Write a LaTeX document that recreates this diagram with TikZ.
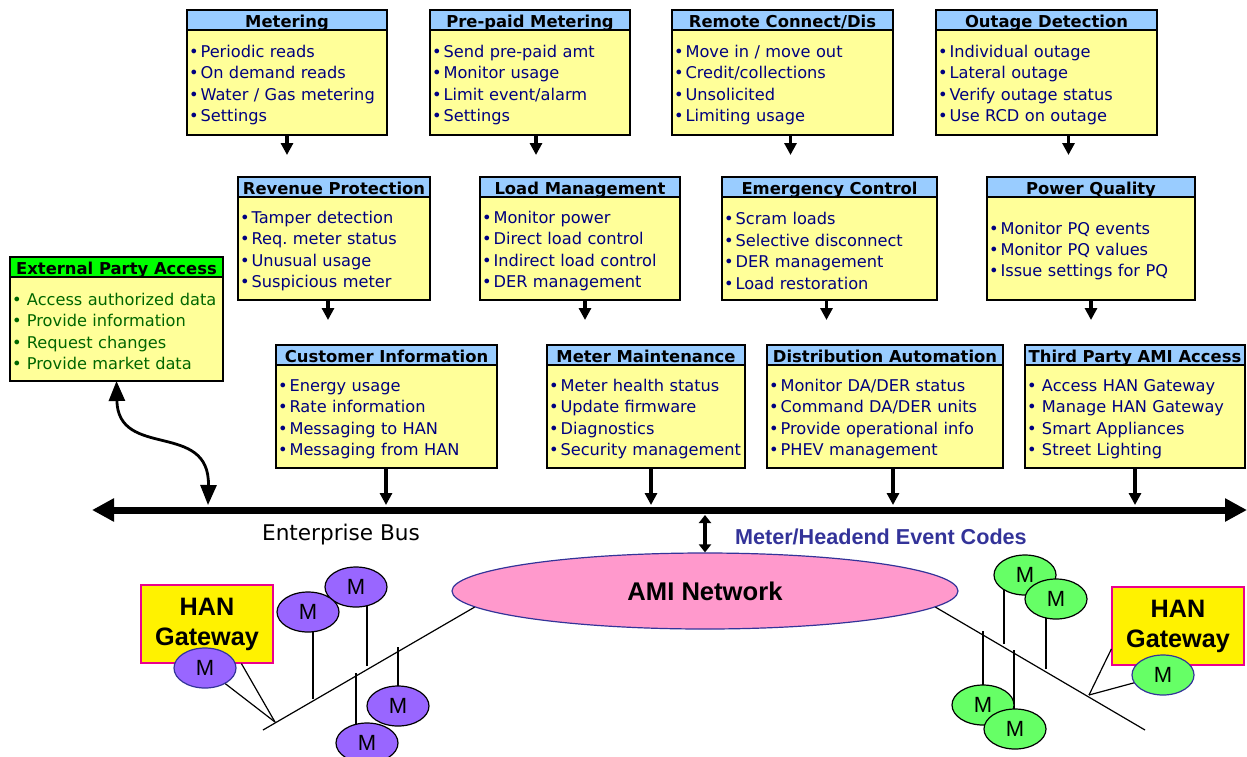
\documentclass[tikz,border=0pt]{standalone}
\usepackage{fontspec}
\setmainfont{DejaVu Sans}
\newfontfamily\arialfont{Liberation Sans}
\usepackage{tikz}
\usetikzlibrary{arrows.meta, positioning, shapes.geometric}
\definecolor{hdrblue}{HTML}{99CCFF}
\definecolor{boxyellow}{HTML}{FFFF99}
\definecolor{itemblue}{HTML}{000080}
\definecolor{extgreen}{HTML}{00FF00}
\definecolor{itemgreen}{HTML}{006600}
\definecolor{meterpurple}{HTML}{9966FF}
\definecolor{metergreen}{HTML}{66FF66}
\definecolor{amipink}{HTML}{FF99CC}
\definecolor{codeblue}{HTML}{333399}
\hyphenpenalty=10000
\frenchspacing

\newcommand{\bul}{\textbullet\kern1pt}
% name, left, top, width, body height (px), title, items
\newcommand{\funcbox}[7]{%
  \node[hdr, minimum width={#4*0.5pt}] (#1h) at (#2,#3) {#6};
  \node[body, minimum width={#4*0.5pt}, text width={#4*0.5pt-2pt},
        minimum height={#5*0.5pt}, below=0pt of #1h] (#1) {\rule{0pt}{8.6pt}#7};
}

\begin{document}
\begin{tikzpicture}[x=0.5pt, y=-0.5pt,
    hdr/.style={draw, line width=1pt, fill=hdrblue, minimum height=10pt,
      inner sep=0pt, outer sep=0pt, anchor=north west, text height=7.6pt, text depth=0pt,
      font=\bfseries\fontsize{8.2}{10}\selectfont},
    body/.style={draw, line width=1pt, fill=boxyellow, inner xsep=1pt,
      inner ysep=0pt, outer sep=0pt, align=left, text=itemblue,
      font=\fontsize{8.1}{10.7}\selectfont},
    stub/.style={line width=1.6pt, -{Triangle[length=6pt,width=6pt]}},
    dstub/.style={line width=1.6pt, {Triangle[length=4pt,width=6pt]}-{Triangle[length=4pt,width=6pt]}},
    curvy/.style={line width=1.4pt, {Triangle[length=10pt,width=8pt]}-{Triangle[length=10pt,width=8pt]}},
    bus/.style={line width=3.5pt, {Triangle[length=11pt,width=11pt]}-{Triangle[length=11pt,width=11pt]}},
    lan/.style={line width=0.6pt},
    han/.style={draw=magenta, line width=0.6pt, fill=yellow, minimum width=66pt,
      minimum height=39pt, inner sep=0pt, align=center,
      font=\arialfont\bfseries\fontsize{12.6}{15}\selectfont},
    meterP/.style={ellipse, draw, line width=0.6pt, fill=meterpurple, minimum width=31pt,
      minimum height=20pt, inner sep=0pt, font=\arialfont\fontsize{11}{12}\selectfont},
    meterG/.style={meterP, fill=metergreen}]
  \useasboundingbox (0,0) rectangle (1247,756);

  % first row
  \funcbox{meter}{187}{10}{200}{105}{Metering}
    {\bul Periodic reads\\\bul On demand reads\\\bul Water / Gas metering\\\bul Settings}
  \funcbox{prepaid}{430}{10}{200}{105}{Pre-paid Metering}
    {\bul Send pre-paid amt\\\bul Monitor usage\\\bul Limit event/alarm\\\bul Settings}
  \funcbox{remote}{672}{10}{221}{105}{Remote Connect/Dis}
    {\bul Move in / move out\\\bul Credit/collections\\\bul Unsolicited\\\bul Limiting usage}
  \funcbox{outage}{936}{10}{221}{105}{Outage Detection}
    {\bul Individual outage\\\bul Lateral outage\\\bul Verify outage status\\\bul Use RCD on outage}

  % second row
  \funcbox{revenue}{238}{177}{192}{103}{Revenue Protection}
    {\bul Tamper detection\\\bul Req. meter status\\\bul Unusual usage\\\bul Suspicious meter}
  \funcbox{load}{480}{177}{200}{103}{Load Management}
    {\bul Monitor power\\\bul Direct load control\\\bul Indirect load control\\\bul DER management}
  \funcbox{emerg}{722}{177}{215}{103}{Emergency Control}
    {\bul Scram loads\\\bul Selective disconnect\\\bul DER management\\\bul Load restoration}
  \funcbox{pq}{987}{177}{208}{103}{Power Quality}
    {\bul Monitor PQ events\\\bul Monitor PQ values\\\bul Issue settings for PQ}

  % third row
  \funcbox{cust}{276}{345}{221}{103}{Customer Information}
    {\bul Energy usage\\\bul Rate information\\\bul Messaging to HAN\\\bul Messaging from HAN}
  \funcbox{maint}{547}{345}{198}{103}{Meter Maintenance}
    {\bul Meter health status\\\bul Update firmware\\\bul Diagnostics\\\bul Security management}
  \funcbox{da}{767}{345}{236}{103}{Distribution Automation}
    {\bul Monitor DA/DER status\\\bul Command DA/DER units\\\bul Provide operational info\\\bul PHEV management}
  \funcbox{third}{1025}{345}{220}{103}{Third Party AMI Access}
    {\textbullet\ Access HAN Gateway\\\textbullet\ Manage HAN Gateway\\\textbullet\ Smart Appliances\\\textbullet\ Street Lighting}

  % external party
  \node[hdr, fill=extgreen, minimum width=106.5pt] (exth) at (10,257) {External Party Access};
  \node[body, text=itemgreen, minimum width=106.5pt, text width=104.5pt,
        minimum height=52pt, below=0pt of exth] (ext)
    {\rule{0pt}{8.6pt}\textbullet\ Access authorized data\\\textbullet\ Provide information\\\textbullet\ Request changes\\\textbullet\ Provide market data};

  % stubs between rows
  \draw[stub] (meter.south) -- ++(0,20);
  \draw[stub] ([xshift=3pt]prepaid.south) -- ++(0,20);
  \draw[stub] ([xshift=4pt]remote.south) -- ++(0,20);
  \draw[stub] ([xshift=11pt]outage.south) -- ++(0,20);
  \draw[stub] ([xshift=-3pt]revenue.south) -- ++(0,20);
  \draw[stub] ([xshift=2.5pt]load.south) -- ++(0,20);
  \draw[stub] ([xshift=-1.5pt]emerg.south) -- ++(0,20);
  \draw[stub] (pq.south) -- ++(0,20);

  % enterprise bus
  \coordinate (busL) at (92,510);
  \coordinate (busR) at (1247,510);
  \draw[bus] (busL) -- (busR);
  \coordinate (custTap) at (386,505);
  \coordinate (maintTap) at (651,505);
  \coordinate (daTap) at (893,505);
  \coordinate (thirdTap) at (1135,505);
  \draw[stub] (custTap |- cust.south) -- (custTap);
  \draw[stub] (maintTap |- maint.south) -- (maintTap);
  \draw[stub] (daTap |- da.south) -- (daTap);
  \draw[stub] (thirdTap |- third.south) -- (thirdTap);
  \coordinate (extTap) at (208,505);
  \draw[curvy] (ext.south) .. controls (118,460) and (210,420) .. (extTap);

  \node[font=\fontsize{10.8}{13}\selectfont] (busLabel) at (341,535) {Enterprise Bus};
  \node[anchor=west, text=codeblue, font=\arialfont\bfseries\fontsize{10.8}{13}\selectfont]
    (codes) at (728,537) {Meter/Headend Event Codes};

  % AMI network
  \node[ellipse, draw=codeblue, line width=0.6pt, fill=amipink, minimum width=253pt,
        minimum height=38pt, inner sep=0pt,
        font=\arialfont\bfseries\fontsize{12.8}{15}\selectfont] (ami) at (705,591) {AMI Network};
  \coordinate (amiTap) at (705,515);
  \draw[dstub] (amiTap) -- (amiTap |- ami.north);

  % left HAN
  \node[han] (hanL) at (207,624) {HAN\\Gateway};
  \coordinate (lanL) at (263,730);
  \draw[lan] (lanL) -- (ami.184);
  \coordinate (tapL) at (275,722);
  \coordinate (mL1c) at (205,668);
  \coordinate (mL2c) at (308,612);
  \coordinate (mL3c) at (356,587);
  \coordinate (mL4c) at (398,706);
  \coordinate (mL5c) at (367,743);
  \coordinate (tapL2) at (313,699);
  \coordinate (tapL3) at (367,666);
  \coordinate (tapL4) at (398,647);
  \coordinate (tapL5) at (356,673);
  \draw[lan] (tapL) -- (hanL.-49);
  \draw[lan] (tapL) -- (mL1c);
  \draw[lan] (tapL2) -- (tapL2 |- mL2c);
  \draw[lan] (tapL3) -- (tapL3 |- mL3c);
  \draw[lan] (tapL4) -- (tapL4 |- mL4c);
  \draw[lan] (tapL5) -- (tapL5 |- mL5c);
  \node[meterP, draw=codeblue] (mL1) at (mL1c) {M};
  \node[meterP] (mL3) at (mL3c) {M};
  \node[meterP] (mL2) at (mL2c) {M};
  \node[meterP] (mL5) at (mL5c) {M};
  \node[meterP] (mL4) at (mL4c) {M};

  % right HAN
  \node[han] (hanR) at (1178,626) {HAN\\Gateway};
  \coordinate (lanR) at (1145,730);
  \draw[lan] (ami.356) -- (lanR);
  \coordinate (tapR) at (1089,695);
  \coordinate (mR1c) at (1025,575);
  \coordinate (mR2c) at (1056,599);
  \coordinate (mR3c) at (983,705);
  \coordinate (mR4c) at (1015,729);
  \coordinate (mR5c) at (1163,675);
  \coordinate (tapR1) at (1004,644);
  \coordinate (tapR2) at (1046,669);
  \coordinate (tapR3) at (983,631);
  \coordinate (tapR4) at (1014,650);
  \draw[lan] (tapR) -- (hanR.199);
  \draw[lan] (tapR) -- (mR5c);
  \draw[lan] (tapR1) -- (tapR1 |- mR1c);
  \draw[lan] (tapR2) -- (tapR2 |- mR2c);
  \draw[lan] (tapR3) -- (tapR3 |- mR3c);
  \draw[lan] (tapR4) -- (tapR4 |- mR4c);
  \node[meterG] (mR1) at (mR1c) {M};
  \node[meterG] (mR2) at (mR2c) {M};
  \node[meterG] (mR3) at (mR3c) {M};
  \node[meterG] (mR4) at (mR4c) {M};
  \node[meterG, draw=codeblue] (mR5) at (mR5c) {M};
\end{tikzpicture}
\end{document}
